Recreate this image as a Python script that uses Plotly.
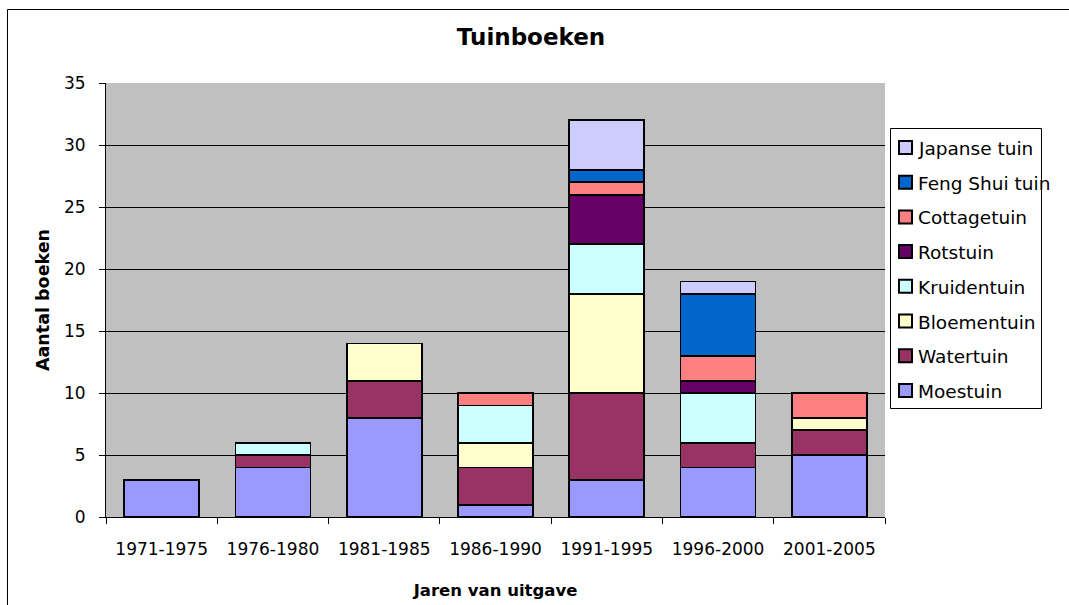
import plotly.graph_objects as go

categories = ["1971-1975", "1976-1980", "1981-1985", "1986-1990", "1991-1995", "1996-2000", "2001-2005"]

moestuin    = [3, 4, 8, 1, 3, 4, 5]
watertuin   = [0, 1, 3, 3, 7, 2, 2]
bloementuin = [0, 0, 3, 2, 8, 0, 1]
kruidentuin = [0, 1, 0, 3, 4, 4, 0]
rotstuin    = [0, 0, 0, 0, 4, 1, 0]
cottagetuin = [0, 0, 0, 1, 1, 2, 2]
fengshui    = [0, 0, 0, 0, 1, 5, 0]
japanse     = [0, 0, 0, 0, 4, 1, 0]

series = [
    ("Moestuin", moestuin, "#9999FF"),
    ("Watertuin", watertuin, "#993366"),
    ("Bloementuin", bloementuin, "#FFFFCC"),
    ("Kruidentuin", kruidentuin, "#CCFFFF"),
    ("Rotstuin", rotstuin, "#660066"),
    ("Cottagetuin", cottagetuin, "#FF8080"),
    ("Feng Shui tuin", fengshui, "#0066CC"),
    ("Japanse tuin", japanse, "#CCCCFF"),
]

FONT = "DejaVu Sans"

fig = go.Figure()
for name, vals, col in series:
    fig.add_trace(go.Bar(
        x=categories, y=vals, name=name,
        marker=dict(color=col, line=dict(color="black", width=1.8)),
    ))

W, H = 1069, 605
L, R, T, B = 106, 184, 83, 88
pw, ph = W - L - R, H - T - B

def px(x):
    return (x - L) / pw

def py(y):
    return (H - B - y) / ph

shapes = [
    # outer chart border (right and bottom edges lie outside the page)
    dict(type="rect", xref="paper", yref="paper",
         x0=px(7.5), x1=px(W + 40), y0=py(H + 40), y1=py(9.5),
         line=dict(color="black", width=1), fillcolor="rgba(0,0,0,0)", layer="below"),
    # legend box
    dict(type="rect", xref="paper", yref="paper",
         x0=px(890.5), x1=px(1041.5), y0=py(408.5), y1=py(128.5),
         line=dict(color="black", width=1), fillcolor="white"),
]
annotations = []
legend_items = list(reversed(series))
for k, (name, vals, col) in enumerate(legend_items):
    cy = 147.5 + k * 34.7
    shapes.append(dict(type="rect", xref="paper", yref="paper",
                       x0=px(899), x1=px(912), y0=py(cy + 6.5), y1=py(cy - 6.5),
                       line=dict(color="black", width=2), fillcolor=col))
    annotations.append(dict(xref="paper", yref="paper", x=px(916), y=py(cy + 1),
                            xanchor="left", yanchor="middle", showarrow=False,
                            text=name, font=dict(size=18.5, family=FONT, color="black")))

fig.update_layout(
    width=W, height=H,
    margin=dict(l=L, r=R, t=T, b=B, autoexpand=False),
    barmode="stack", bargap=0.326,
    plot_bgcolor="#C0C0C0", paper_bgcolor="white",
    showlegend=False,
    font=dict(family=FONT, color="black", size=17),
    title=dict(text="<b>Tuinboeken</b>", font=dict(size=23, family=FONT, color="black"),
               x=531 / W, xref="container", xanchor="center",
               y=1 - 37 / H, yref="container", yanchor="middle"),
    xaxis=dict(
        automargin=False,
        showline=True, linecolor="black", linewidth=1,
        ticks="outside", tickson="boundaries", ticklen=6, tickcolor="black",
        ticklabelstandoff=17,
        title=dict(text="<b>Jaren van uitgave</b>", font=dict(size=16.5, family=FONT), standoff=26),
    ),
    yaxis=dict(
        automargin=False,
        range=[0, 35], dtick=5, showgrid=True, gridcolor="black", gridwidth=1,
        showline=True, linecolor="black", linewidth=1,
        ticks="outside", ticklen=6, tickcolor="black", ticklabelstandoff=10,
        zeroline=False,
        title=dict(text="<b>Aantal boeken</b>", font=dict(size=17.5, family=FONT), standoff=9),
    ),
    shapes=shapes,
    annotations=annotations,
)

fig.write_html("out.html",
               config={"displayModeBar": False},
               post_script="document.body.style.margin='0';document.body.style.overflow='hidden';")
